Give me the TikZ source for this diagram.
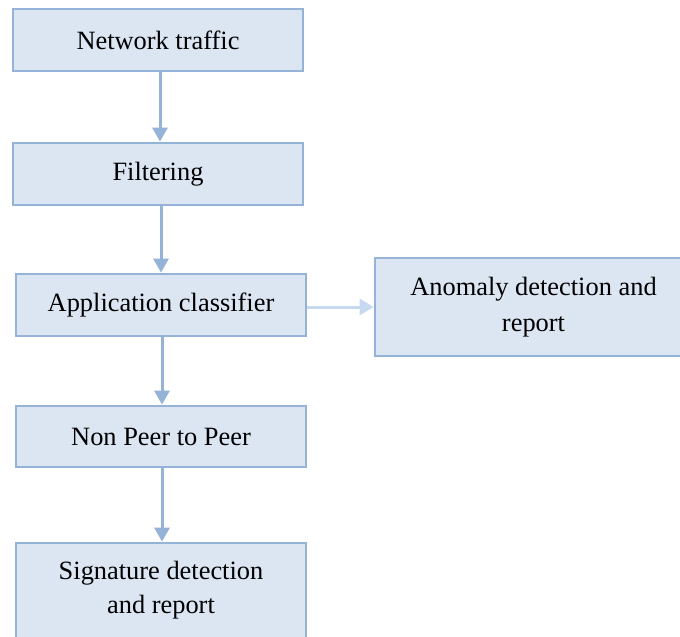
\documentclass[tikz,border=0pt]{standalone}
\usepackage{fontspec}
\setmainfont{Liberation Serif}
\usetikzlibrary{arrows.meta}
\definecolor{boxfill}{HTML}{DCE6F2}
\definecolor{boxline}{HTML}{95B3D7}
\definecolor{lightline}{HTML}{C6D9F1}
\tikzset{
  stagebox/.style={draw=boxline, fill=boxfill, line width=2.8pt, inner sep=0pt,
    minimum width=290pt, align=center, font=\fontsize{26.4}{36}\selectfont},
  flow/.style={draw=boxline, line width=3pt, -{Triangle[length=14pt,width=15pt]}},
  sideflow/.style={draw=lightline, line width=3pt, -{Triangle[length=14pt,width=16pt]}}
}
\begin{document}
\begin{tikzpicture}[x=1pt,y=-1pt]
  \useasboundingbox (0,0) rectangle (680,637);
  \begin{scope}
    \clip (0,0) rectangle (680,637);
    \node[stagebox, minimum height=62pt] (net) at (158,40) {Network traffic};
    \node[stagebox, minimum height=62pt] (filt) at (158,174) {Filtering};
    \node[stagebox, minimum height=62pt] (app) at (161,305) {Application classifier};
    \node[stagebox, minimum height=98pt, minimum width=317pt] (anom) at (533.5,307) {Anomaly detection and\\report};
    \node[stagebox, minimum height=98pt] (sig) at (161,592) {};
    \node[align=center, inner sep=0pt, font=\fontsize{26.4}{34}\selectfont] (sigtext) at (161,590.5) {Signature detection\\and report};
    \node[stagebox, minimum height=61pt] (nonp) at (161,436.5) {Non Peer to Peer};
  \end{scope}
  \draw[flow] ([xshift=2pt]net.south) -- ([xshift=2pt]net.south |- filt.north);
  \draw[flow] ([xshift=3pt]filt.south) -- ([xshift=3pt]filt.south |- app.north);
  \draw[flow] ([xshift=1pt]app.south) -- ([xshift=1pt]app.south |- nonp.north);
  \draw[flow] ([xshift=1pt]nonp.south) -- ([xshift=1pt]nonp.south |- sig.north);
  \draw[sideflow] (app.east |- anom.west) -- (anom.west);
\end{tikzpicture}
\end{document}
